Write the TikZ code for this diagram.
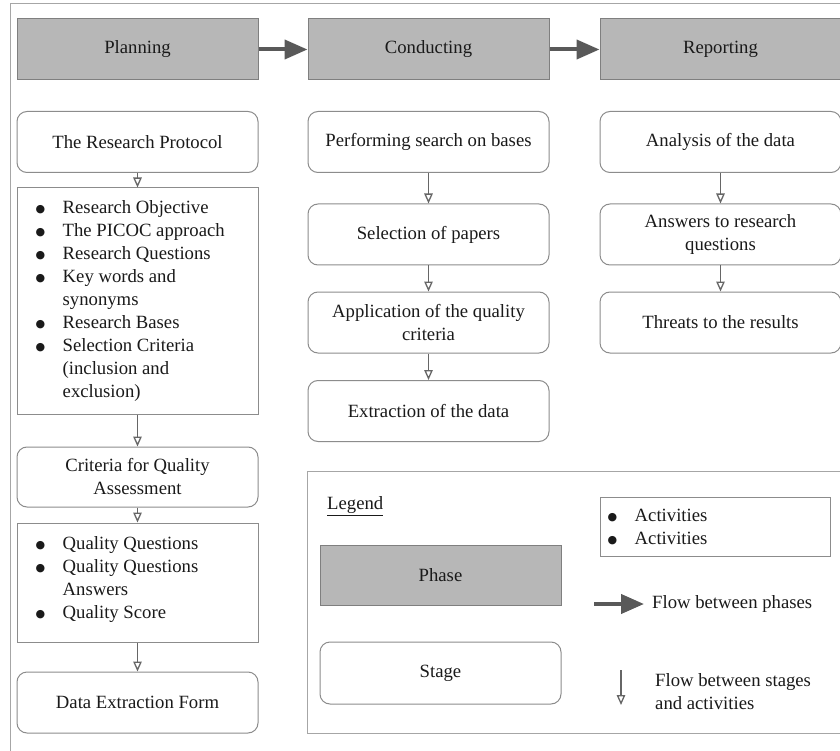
\documentclass[tikz,border=0pt]{standalone}
\usepackage{fontspec}
\setmainfont{Liberation Serif}
\newfontfamily\symfont{DejaVu Sans}
\usetikzlibrary{arrows.meta}

\definecolor{phasefill}{HTML}{B7B7B7}
\definecolor{phaseline}{HTML}{7F7F7F}
\definecolor{stageline}{HTML}{8C8C8C}
\definecolor{flowdark}{HTML}{595959}
\definecolor{flowthin}{HTML}{666666}
\definecolor{framegray}{HTML}{A6A6A6}
\definecolor{ink}{HTML}{1A1A1A}

% bullet item and hanging continuation line
\newcommand\bul{\makebox[27pt][l]{\raisebox{1pt}{\symfont\fontsize{11}{11}\selectfont ●}}}
\newcommand\cont{\hspace*{27pt}}

\tikzset{
  base/.style={font=\fontsize{18.7}{23}\selectfont, text=ink, inner sep=0pt, align=center},
  phasebox/.style={base, draw=phaseline, fill=phasefill, line width=1pt,
                   minimum width=241pt, minimum height=61pt},
  stagebox/.style={base, draw=stageline, line width=1pt, rounded corners=10pt,
                   minimum width=241pt, minimum height=61pt},
  actbox/.style={draw=stageline, line width=1pt, minimum width=241pt, inner sep=0pt},
  listtext/.style={base, align=left, anchor=west},
  phaseflow/.style={draw=flowdark, line width=4pt, -{Triangle[length=23pt,width=19pt]}},
  stageflow/.style={draw=flowthin, line width=1.3pt,
                    -{Triangle[open,length=10pt,width=8.5pt,fill=white]}},
}

\begin{document}
\begin{tikzpicture}[x=1pt,y=-1pt]
  \clip (0,0) rectangle (840,751);
  \fill[white] (0,0) rectangle (840,751);

  % outer frame
  \draw[framegray, line width=1pt] (10,4) rectangle (860,770);

  % phases
  \node[phasebox] (plan) at (137.5,49.5) {Planning};
  \node[phasebox] (cond) at (428.5,49.5) {Conducting};
  \node[phasebox] (rep)  at (720.5,49.5) {Reporting};
  \draw[phaseflow] (plan.east) -- (cond.west);
  \draw[phaseflow] (cond.east) -- (rep.west);

  % planning column
  \node[stagebox] (proto) at (137.5,142) {The Research Protocol};
  \node[actbox, minimum height=226pt] (act1) at (137.5,301) {};
  \node[listtext] (act1txt) at ([xshift=19pt]act1.west) {%
    \bul Research Objective\\
    \bul The PICOC approach\\
    \bul Research Questions\\
    \bul Key words and\\
    \cont synonyms\\
    \bul Research Bases\\
    \bul Selection Criteria\\
    \cont (inclusion and\\
    \cont exclusion)};
  \node[stagebox, minimum height=60pt] (crit) at (137.5,477) {Criteria for Quality\\Assessment};
  \node[actbox, minimum height=119pt] (act2) at (137.5,582.5) {};
  \node[listtext] (act2txt) at ([xshift=19pt,yshift=3pt]act2.west) {%
    \bul Quality Questions\\
    \bul Quality Questions\\
    \cont Answers\\
    \bul Quality Score};
  \node[stagebox] (form) at (137.5,702.5) {Data Extraction Form};

  \draw[stageflow] (proto.south) -- (act1.north);
  \draw[stageflow] (act1.south) -- (crit.north);
  \draw[stageflow] (crit.south) -- (act2.north);
  \draw[stageflow] (act2.south) -- (form.north);

  % conducting column
  \node[stagebox] (search) at (428.5,142) {Performing search on bases};
  \node[stagebox] (select) at (428.5,234.5) {Selection of papers};
  \node[stagebox] (apply)  at (428.5,322.5) {Application of the quality\\criteria};
  \node[stagebox] (extract) at (428.5,411) {Extraction of the data};
  \draw[stageflow] (search.south) -- (select.north);
  \draw[stageflow] (select.south) -- (apply.north);
  \draw[stageflow] (apply.south) -- (extract.north);

  % reporting column
  \node[stagebox] (analysis) at (720.5,142) {Analysis of the data};
  \node[stagebox] (answers)  at (720.5,234.5) {Answers to research\\questions};
  \node[stagebox] (threats)  at (720.5,322.5) {Threats to the results};
  \draw[stageflow] (analysis.south) -- (answers.north);
  \draw[stageflow] (answers.south) -- (threats.north);

  % legend
  \draw[framegray, line width=1pt] (307,471) rectangle (870,733);
  \node[base, anchor=west] (legtitle) at (327,506) {\underline{Legend}};
  \node[phasebox, minimum height=60pt] (legphase) at (440.5,575) {Phase};
  \node[stagebox, minimum height=62pt] (legstage) at (440.5,673) {Stage};
  \node[actbox, minimum width=230pt, minimum height=59pt] (legact) at (715,526.5) {};
  \node[listtext] (legacttxt) at ([xshift=8pt]legact.west) {%
    \bul Activities\\
    \bul Activities};

  \coordinate (pfrom) at (594,604);
  \coordinate (pto) at (644,604);
  \draw[phaseflow] (pfrom) -- (pto);
  \node[base, anchor=west] (pflowtxt) at (652,604) {Flow between phases};

  \coordinate (sfrom) at (621,670);
  \coordinate (sto) at (621,705);
  \draw[stageflow] (sfrom) -- (sto);
  \node[listtext] (sflowtxt) at (655,692) {Flow between stages\\and activities};
\end{tikzpicture}
\end{document}
